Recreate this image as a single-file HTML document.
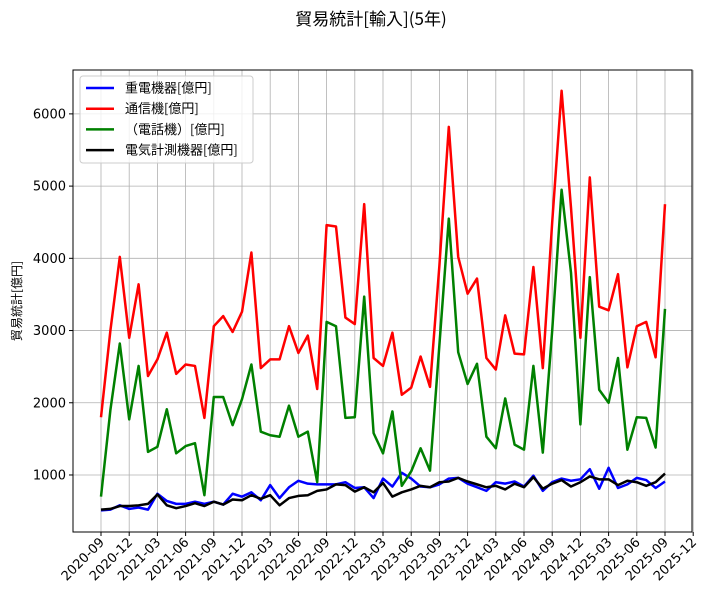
<!DOCTYPE html>
<html><head><meta charset="utf-8"><style>
body{margin:0;background:#fff}
svg{display:block;font-family:"DejaVu Sans","Noto Sans CJK JP",sans-serif}
.cjk{font-family:"Noto Sans CJK JP","DejaVu Sans",sans-serif}
</style></head><body>
<svg id="c" width="728" height="602" viewBox="0 0 728 602">
<text class="cjk" x="371" y="25" font-size="17" text-anchor="middle">貿易統計[輸入](5年)</text>
<text class="cjk" transform="translate(21,301) rotate(-90)" font-size="12" text-anchor="middle">貿易統計[億円]</text>
<g id="grid"></g><g id="series"></g>
<rect x="73" y="70" width="619" height="462" fill="none" stroke="#000" stroke-width="1"/>
<g id="axes"></g><g id="legend"></g>
</svg>
<script>
const seriesNames=["重電機器[億円]","通信機[億円]","（電話機）[億円]","電気計測機器[億円]"];
const colors=["#0000ff","#ff0000","#008000","#000000"];
const yTicks=[1000,2000,3000,4000,5000,6000];
const xTickLabels=["2020-09","2020-12","2021-03","2021-06","2021-09","2021-12","2022-03","2022-06","2022-09","2022-12","2023-03","2023-06","2023-09","2023-12","2024-03","2024-06","2024-09","2024-12","2025-03","2025-06","2025-09","2025-12"];
const heavy=[510,520,580,530,550,520,740,640,600,600,630,600,630,590,740,700,760,650,860,680,830,920,880,870,870,870,900,820,830,680,950,840,1030,950,840,830,870,950,960,880,830,780,900,880,910,840,990,780,900,950,920,940,1080,810,1100,820,870,960,930,820,910];
const comm=[1800,3000,4020,2900,3640,2370,2600,2970,2400,2530,2510,1790,3060,3200,2980,3260,4080,2480,2600,2600,3060,2690,2930,2190,4460,4440,3180,3090,4750,2620,2510,2970,2110,2210,2640,2220,3900,5820,4020,3510,3720,2620,2460,3210,2680,2670,3880,2480,4500,6320,4700,2900,5120,3330,3280,3780,2490,3060,3120,2630,4750];
const phone=[700,1900,2820,1770,2510,1320,1390,1910,1300,1400,1440,720,2080,2080,1690,2050,2530,1600,1550,1530,1960,1530,1600,900,3120,3060,1790,1800,3470,1580,1300,1880,850,1050,1370,1060,2800,4550,2700,2260,2540,1530,1370,2060,1420,1350,2510,1310,3000,4950,3800,1700,3740,2180,2000,2620,1350,1800,1790,1380,3300];
const meas=[520,530,570,570,580,600,730,580,540,570,610,570,630,590,660,650,720,670,720,580,680,710,720,780,800,870,860,770,830,760,890,700,760,800,850,830,900,910,960,910,870,830,850,800,880,830,970,810,880,930,840,900,980,940,940,860,920,900,850,900,1020];
const data=[heavy,comm,phone,meas];
const NS="http://www.w3.org/2000/svg";
function X(i){return 101+i*(564/60);}
function Y(v){return 547.2-v*0.07222;}
function mk(t,a,p){const e=document.createElementNS(NS,t);for(const k in a)e.setAttribute(k,a[k]);p.appendChild(e);return e;}
const grid=document.getElementById('grid'),axes=document.getElementById('axes'),ser=document.getElementById('series'),leg=document.getElementById('legend');
yTicks.forEach(v=>{const y=Y(v);
const g=mk('line',{x1:73,x2:692,y1:y,y2:y,stroke:'#b0b0b0','stroke-width':0.8},grid);

mk('line',{x1:69,x2:73,y1:y,y2:y,stroke:'#000'},axes);
const t=mk('text',{x:66,y:y+4.5,'font-size':13,'text-anchor':'end'},axes);t.textContent=v;
});
xTickLabels.forEach((s,k)=>{const x=X(k*3);
const g=mk('line',{x1:x,x2:x,y1:70,y2:532,stroke:'#b0b0b0','stroke-width':0.8},grid);

mk('line',{x1:x,x2:x,y1:532,y2:536,stroke:'#000'},axes);
const t=mk('text',{transform:`translate(${x+4},${543}) rotate(-45)`,'font-size':13,'text-anchor':'end'},axes);t.textContent=s;
});
data.forEach((d,s)=>{const p=mk('polyline',{points:d.map((v,i)=>X(i)+','+Y(v)).join(' '),fill:'none',stroke:colors[s],'stroke-width':2.5,'stroke-linejoin':'round'},ser);
});
const lb=mk('rect',{x:80,y:76,width:173,height:87,fill:'#fff','fill-opacity':0.8,stroke:'#ccc',rx:3},leg);

seriesNames.forEach((n,s)=>{const y=88+s*20.7;
mk('line',{x1:86,x2:114,y1:y,y2:y,stroke:colors[s],'stroke-width':2.5},leg);
const t=mk('text',{x:125,y:y+4.5,'font-size':13,'class':'cjk'},leg);t.textContent=n;
});
</script>
</body></html>
